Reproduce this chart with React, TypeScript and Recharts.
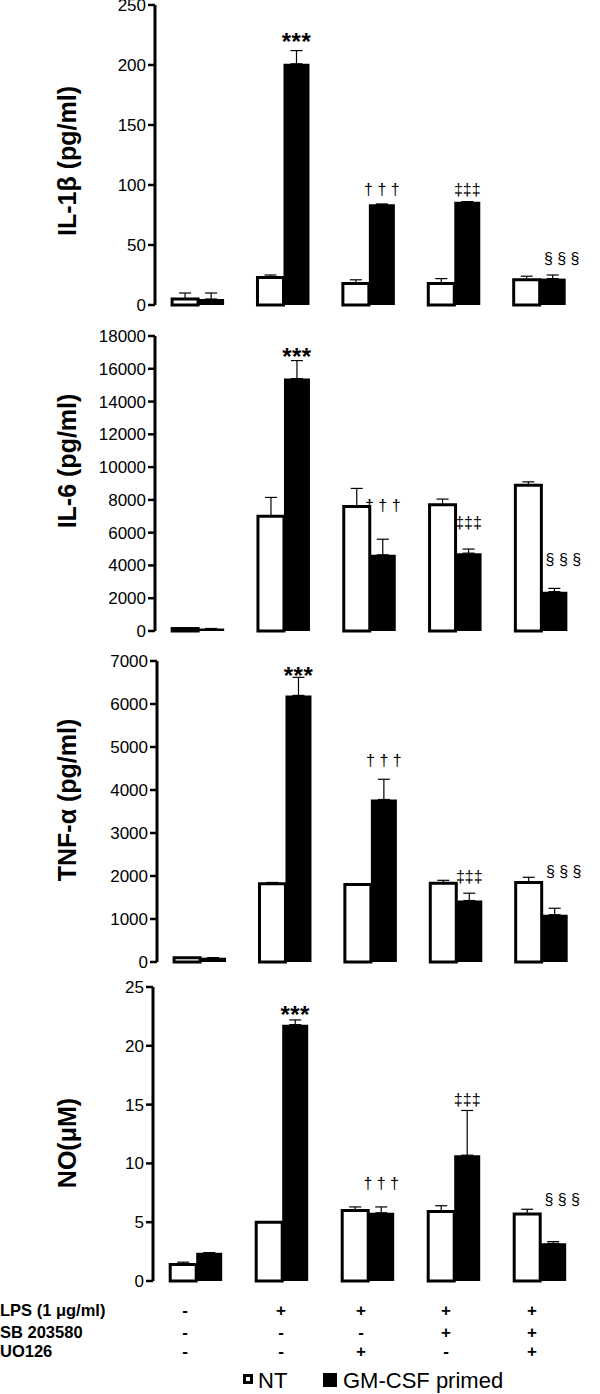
import { BarChart, Bar, XAxis, YAxis, ErrorBar, LabelList, Label } from 'recharts';

const groups = ['A', 'B', 'C', 'D', 'E'];

// IL-1β (pg/ml)
const il1NT = [5, 23, 18, 18, 21];
const il1NTErr = [5, 2, 3, 4, 3];
const il1GM = [5, 201, 84, 86, 22];
const il1GMErr = [5, 11, 0, 0, 3];
const il1Marks = ['', '***', '† † †', '‡‡‡', '§ § §'];
const il1MarkAt = [0, 222, 97, 97, 39];

// IL-6 (pg/ml)
const il6NT = [150, 7000, 7600, 7700, 8900];
const il6NTErr = [0, 1150, 1100, 350, 200];
const il6GM = [150, 15400, 4650, 4750, 2400];
const il6GMErr = [0, 1100, 950, 250, 200];
const il6Marks = ['', '***', '† † †', '‡‡‡', '§ § §'];
const il6MarkAt = [0, 16900, 7700, 6650, 4400];

// TNF-α (pg/ml)
const tnfNT = [100, 1820, 1800, 1830, 1850];
const tnfNTErr = [0, 30, 0, 70, 120];
const tnfGM = [100, 6200, 3780, 1430, 1100];
const tnfGMErr = [0, 420, 470, 170, 150];
const tnfMarks = ['', '***', '† † †', '‡‡‡', '§ § §'];
const tnfMarkAt = [0, 6720, 4700, 2000, 2120];

// NO (μM)
const noNT = [1.4, 5.0, 6.0, 5.9, 5.7];
const noNTErr = [0.2, 0, 0.3, 0.5, 0.4];
const noGM = [2.4, 21.8, 5.8, 10.7, 3.2];
const noGMErr = [0, 0.4, 0.5, 3.8, 0.15];
const noMarks = ['', '***', '† † †', '‡‡‡', '§ § §'];
const noMarkAt = [0, 22.9, 8.3, 15.5, 7.0];

// treatment table under the charts
const rowLabels = ['LPS (1 μg/ml)', 'SB 203580', 'UO126'];
const lpsRow = ['-', '+', '+', '+', '+'];
const sbRow = ['-', '-', '-', '+', '+'];
const uoRow = ['-', '-', '+', '-', '+'];
const seriesNames = ['NT', 'GM-CSF primed'];

const FONT = '"Liberation Sans", Arial, Helvetica, sans-serif';

type PanelProps = {
  plotTop: number;
  plotHeight: number;
  plotLeft: number;
  plotRight: number;
  title: string;
  titleY: number;
  max: number;
  ticks: number[];
  nt: number[];
  ntErr: number[];
  gm: number[];
  gmErr: number[];
  marks: string[];
  markAt: number[];
};

const PAD = 12;

const Panel = (p: PanelProps) => {
  const rows = groups.map((g, i) => ({
    g,
    nt: p.nt[i],
    ntErr: [0, p.ntErr[i]],
    gm: p.gm[i],
    gmErr: [0, p.gmErr[i]],
    mark: p.marks[i],
    markAt: p.markAt[i],
  }));
  const chartTop = p.plotTop - PAD;

  // significance marks, placed at a value on the bar's own scale
  const renderMark = (props: any) => {
    const row = rows[props.index];
    if (!row || !row.mark) return null;
    const vb = props.viewBox ?? props;
    const x = Number(vb.x);
    const w = Number(vb.width);
    const y = Number(vb.y);
    const h = Number(vb.height);
    const bottom = Math.max(y, y + h);
    const cy = bottom - row.markAt * (Math.abs(h) / row.gm);
    const isStar = row.mark.startsWith('*');
    const dx = row.mark.startsWith('§') ? 9 : 0;
    return (
      <text
        x={x + w / 2 + dx}
        y={cy}
        dy={isStar ? 11 : 6}
        textAnchor="middle"
        fontFamily={FONT}
        fontSize={isStar ? 24 : 16}
        fontWeight={isStar ? 'bold' : 'normal'}
        letterSpacing={isStar ? 0.5 : 0}
        fill="#000"
      >
        {row.mark}
      </text>
    );
  };

  return (
    <div style={{ position: 'absolute', left: 0, top: chartTop }}>
      <BarChart
        width={600}
        height={p.plotHeight + PAD * 2}
        data={rows}
        margin={{ top: PAD, right: 600 - p.plotRight, bottom: PAD, left: 0 }}
        barCategoryGap="20%"
        barGap={0}
      >
        <XAxis dataKey="g" tick={false} tickLine={false} height={0} axisLine={{ stroke: '#000', strokeWidth: 1.5 }} />
        <XAxis
          xAxisId="top"
          orientation="top"
          dataKey="g"
          tick={false}
          tickLine={false}
          height={0}
          axisLine={{ stroke: '#000', strokeWidth: 1.5 }}
        />
        <YAxis
          width={p.plotLeft}
          domain={[0, p.max]}
          ticks={p.ticks}
          interval={0}
          tickSize={7}
          tickMargin={2}
          axisLine={{ stroke: '#000', strokeWidth: 3 }}
          tickLine={{ stroke: '#000', strokeWidth: 2.5 }}
          tick={{ fill: '#000', fontSize: 17, fontFamily: FONT }}
        >
          <Label
            content={() => (
              <text
                x={67}
                y={p.titleY - chartTop}
                transform={`rotate(-90 67 ${p.titleY - chartTop})`}
                textAnchor="middle"
                dominantBaseline="central"
                fontFamily={FONT}
                fontSize={25}
                fontWeight="bold"
                fill="#000"
              >
                {p.title}
              </text>
            )}
          />
        </YAxis>
        <YAxis
          yAxisId="r"
          orientation="right"
          width={0}
          domain={[0, p.max]}
          tick={false}
          tickLine={false}
          axisLine={{ stroke: '#000', strokeWidth: 1.5 }}
        />
        <Bar dataKey="nt" fill="#fff" stroke="#000" strokeWidth={3} isAnimationActive={false}>
          <ErrorBar dataKey="ntErr" direction="y" width={6} stroke="#000" strokeWidth={1.2} />
        </Bar>
        <Bar dataKey="gm" fill="#000" isAnimationActive={false}>
          <ErrorBar dataKey="gmErr" direction="y" width={6} stroke="#000" strokeWidth={1.2} />
          <LabelList dataKey="mark" content={renderMark} />
        </Bar>
      </BarChart>
    </div>
  );
};

const colX = [185, 281, 361, 446, 532];
const rowY = [1310, 1332, 1351];

const App = () => {
  const tableRows = [lpsRow, sbRow, uoRow];
  return (
    <div style={{ position: 'absolute', left: 0, top: 0, width: 600, height: 1394, background: '#fff' }}>
      <Panel
        plotTop={5}
        plotHeight={300}
        plotLeft={155}
        plotRight={582}
        title="IL-1β (pg/ml)"
        titleY={161}
        max={250}
        ticks={[0, 50, 100, 150, 200, 250]}
        nt={il1NT}
        ntErr={il1NTErr}
        gm={il1GM}
        gmErr={il1GMErr}
        marks={il1Marks}
        markAt={il1MarkAt}
      />
      <Panel
        plotTop={336}
        plotHeight={295}
        plotLeft={155}
        plotRight={584}
        title="IL-6 (pg/ml)"
        titleY={461}
        max={18000}
        ticks={[0, 2000, 4000, 6000, 8000, 10000, 12000, 14000, 16000, 18000]}
        nt={il6NT}
        ntErr={il6NTErr}
        gm={il6GM}
        gmErr={il6GMErr}
        marks={il6Marks}
        markAt={il6MarkAt}
      />
      <Panel
        plotTop={661}
        plotHeight={301}
        plotLeft={157}
        plotRight={584}
        title="TNF-α (pg/ml)"
        titleY={800}
        max={7000}
        ticks={[0, 1000, 2000, 3000, 4000, 5000, 6000, 7000]}
        nt={tnfNT}
        ntErr={tnfNTErr}
        gm={tnfGM}
        gmErr={tnfGMErr}
        marks={tnfMarks}
        markAt={tnfMarkAt}
      />
      <Panel
        plotTop={987}
        plotHeight={294}
        plotLeft={153}
        plotRight={583}
        title="NO(μM)"
        titleY={1143}
        max={25}
        ticks={[0, 5, 10, 15, 20, 25]}
        nt={noNT}
        ntErr={noNTErr}
        gm={noGM}
        gmErr={noGMErr}
        marks={noMarks}
        markAt={noMarkAt}
      />
      <svg width={600} height={1394} style={{ position: 'absolute', left: 0, top: 0, pointerEvents: 'none' }}>
        {rowLabels.map((r, i) => (
          <text key={r} x={0} y={rowY[i]} dominantBaseline="central" fontFamily={FONT} fontSize={16.5} fontWeight="bold" fill="#000">
            {r}
          </text>
        ))}
        {tableRows.map((row, i) =>
          row.map((s, j) => (
            <text
              key={`${i}-${j}`}
              x={colX[j]}
              y={rowY[i]}
              textAnchor="middle"
              dominantBaseline="central"
              fontFamily={FONT}
              fontSize={17}
              fontWeight="bold"
              fill="#000"
            >
              {s}
            </text>
          )),
        )}
        <rect x={244.5} y={1375.5} width={7} height={7} fill="#fff" stroke="#000" strokeWidth={3} />
        <text x={258} y={1380} dominantBaseline="central" fontFamily={FONT} fontSize={22} fill="#000">
          {seriesNames[0]}
        </text>
        <rect x={323} y={1373} width={14} height={14} fill="#000" />
        <text x={343} y={1380} dominantBaseline="central" fontFamily={FONT} fontSize={22} fill="#000">
          {seriesNames[1]}
        </text>
      </svg>
    </div>
  );
};

export default App;
